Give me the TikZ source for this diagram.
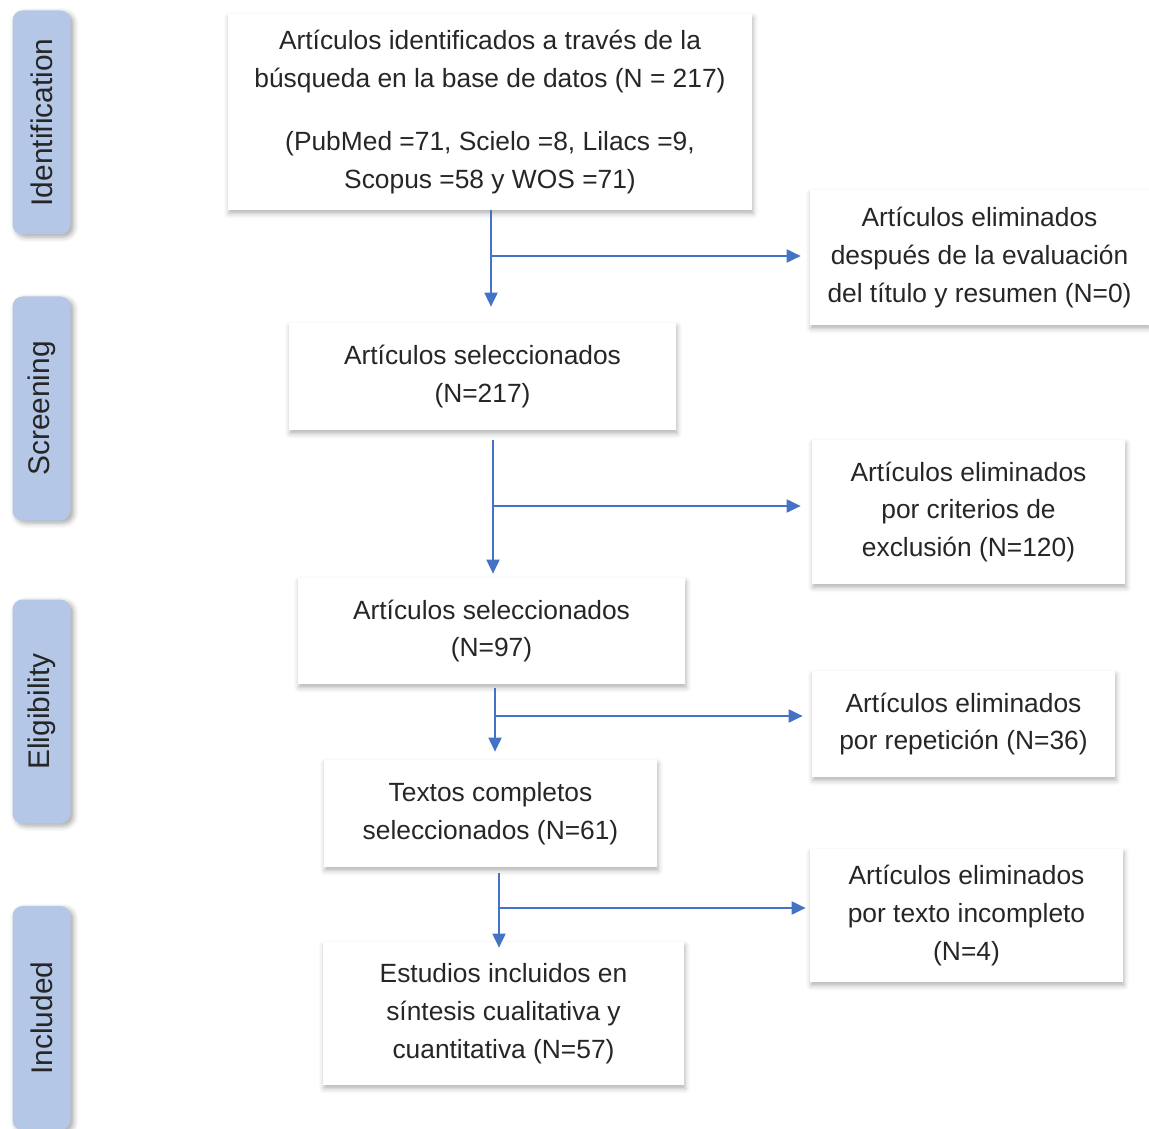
\documentclass[tikz,border=0pt]{standalone}
\usepackage{fontspec}
\setmainfont{Liberation Sans}
\usetikzlibrary{arrows.meta,shadows.blur}
\definecolor{flowblue}{HTML}{4472C4}
\definecolor{phaseblue}{HTML}{B4C7E7}
\begin{document}
\begin{tikzpicture}[
    box/.style={fill=white, align=center, text=black!85, inner sep=0pt,
      font=\fontsize{15}{21.5}\selectfont,
      blur shadow={shadow xshift=0.02cm, shadow yshift=-0.07cm, shadow blur radius=0.1cm, shadow opacity=30}},
    phase/.style={fill=phaseblue, rounded corners=0.2cm, rotate=90, text=black!85,
      minimum height=1.16cm, font=\fontsize{17}{20}\selectfont,
      blur shadow={shadow xshift=0.06cm, shadow yshift=-0.05cm, shadow blur radius=0.1cm, shadow opacity=35}},
    flow/.style={draw=flowblue, line width=1.1pt, -{Triangle[length=0.28cm,width=0.26cm]}}
  ]
            \useasboundingbox (0,0) rectangle (22.98,-22.58);
            \foreach \nm/\y/\txt in {ident/-2.45/Identification, screen/-8.17/Screening,
              elig/-14.23/Eligibility, incl/-20.36/Included}{
              \node[phase, minimum width=4.48cm] (\nm) at (0.83,\y) {\txt};
            }
            \node[box, minimum width=10.48cm, minimum height=3.92cm] (search) at (9.8,-2.24)
              {Artículos identificados a través de la\\búsqueda en la base de datos (N = 217)\\[0.5cm]
               (PubMed =71, Scielo =8, Lilacs =9,\\Scopus =58 y WOS =71)};
            \node[box, minimum width=7.74cm, minimum height=2.14cm] (sel1) at (9.65,-7.53)
              {Artículos seleccionados\\(N=217)};
            \node[box, minimum width=7.74cm, minimum height=2.12cm] (sel2) at (9.83,-12.62)
              {Artículos seleccionados\\(N=97)};
            \node[box, minimum width=6.66cm, minimum height=2.14cm] (full) at (9.81,-16.27)
              {Textos completos\\seleccionados (N=61)};
            \node[box, minimum width=7.22cm, minimum height=2.86cm] (final) at (10.07,-20.27)
              {Estudios incluidos en\\síntesis cualitativa y\\cuantitativa (N=57)};
            \node[box, minimum width=6.78cm, minimum height=2.7cm] (rem1) at (19.59,-5.15)
              {Artículos eliminados\\después de la evaluación\\del título y resumen (N=0)};
            \node[box, minimum width=6.26cm, minimum height=2.88cm] (rem2) at (19.37,-10.24)
              {Artículos eliminados\\por criterios de\\exclusión (N=120)};
            \node[box, minimum width=6.06cm, minimum height=2.12cm] (rem3) at (19.27,-14.48)
              {Artículos eliminados\\por repetición (N=36)};
            \node[box, minimum width=6.26cm, minimum height=2.66cm] (rem4) at (19.33,-18.31)
              {Artículos eliminados\\por texto incompleto\\(N=4)};
            \coordinate (j1) at (9.82,-5.12);
            \coordinate (j2) at (9.86,-10.12);
            \coordinate (j3) at (9.9,-14.32);
            \coordinate (j4) at (9.98,-18.16);
            \draw[flow, shorten >=0.32cm] (j1 |- search.south) -- (j1 |- sel1.north);
            \draw[flow, shorten >=0.18cm] (j1) -- (j1 -| rem1.west);
            \draw[flow, shorten <=0.2cm, shorten >=0.08cm] (j2 |- sel1.south) -- (j2 |- sel2.north);
            \draw[flow, shorten >=0.22cm] (j2) -- (j2 -| rem2.west);
            \draw[flow, shorten <=0.08cm, shorten >=0.16cm] (j3 |- sel2.south) -- (j3 |- full.north);
            \draw[flow, shorten >=0.18cm] (j3) -- (j3 -| rem3.west);
            \draw[flow, shorten <=0.12cm, shorten >=-0.12cm] (j4 |- full.south) -- (j4 |- final.north);
            \draw[flow, shorten >=0.08cm] (j4) -- (j4 -| rem4.west);
          \end{tikzpicture}
\end{document}
